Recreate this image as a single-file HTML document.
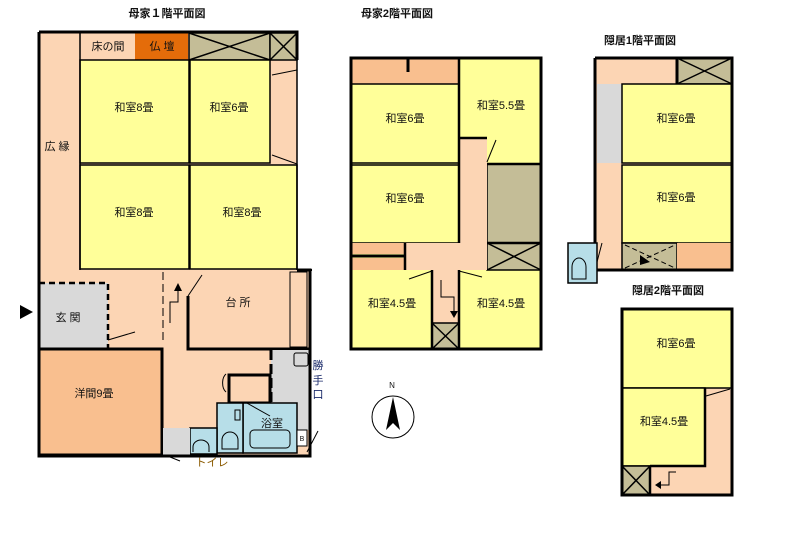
<!DOCTYPE html>
<html><head><meta charset="utf-8"><style>
html,body{margin:0;padding:0;background:#fff;}
svg{display:block;font-family:"Liberation Sans","Noto Sans CJK JP",sans-serif;}
text{font-size:11px;fill:#111;text-anchor:middle;}
.t{font-size:11px;font-weight:bold;}
</style></head><body>
<svg width="807" height="546" viewBox="0 0 807 546" xmlns="http://www.w3.org/2000/svg">
<defs>
<style>.Y{fill:#ffff99;stroke:#000;stroke-width:1.5}.P{fill:#fcd5b4}.D{fill:#f9bf8f}.G{fill:#d9d9d9}.K{fill:#c4bd97;stroke:#000;stroke-width:1.5}.B{fill:#b7dee8;stroke:#000;stroke-width:1.5}.W{fill:none;stroke:#000;stroke-width:3}.x{stroke:#000;stroke-width:1.5}</style>
</defs>
<!-- titles -->
<text class="t" x="167" y="17">母家１階平面図</text>
<text class="t" x="397" y="17">母家2階平面図</text>
<text class="t" x="640" y="44">隠居1階平面図</text>
<text class="t" x="668" y="294">隠居2階平面図</text>

<!-- ===== Main 1F ===== -->
<path class="P" d="M39 32 H297 V270 H310 V456 H39Z"/>
<rect class="P" x="80" y="32" width="55" height="28"/>
<rect x="135" y="32" width="53" height="28" fill="#e46c0a"/>
<rect class="K" x="189" y="33" width="81" height="27"/>
<line class="x" x1="189" y1="33" x2="270" y2="60"/><line class="x" x1="189" y1="60" x2="270" y2="33"/>
<rect class="K" x="270" y="33" width="27" height="27"/>
<line class="x" x1="270" y1="33" x2="297" y2="60"/><line class="x" x1="270" y1="60" x2="297" y2="33"/>
<rect class="Y" x="80" y="60" width="109" height="103"/>
<rect class="Y" x="190" y="60" width="80" height="103"/>
<rect class="Y" x="80" y="165" width="109" height="104"/>
<rect class="Y" x="190" y="165" width="107" height="104"/>
<line x1="297" y1="32" x2="297" y2="270" stroke="#000" stroke-width="1.5"/>
<line x1="80" y1="32" x2="80" y2="270" stroke="#000" stroke-width="1.5"/>
<line x1="272" y1="75" x2="297" y2="70" stroke="#000"/>
<line x1="272" y1="155" x2="297" y2="164" stroke="#000"/>
<text x="57" y="150">広 縁</text>
<text x="108" y="50">床の間</text>
<text x="162" y="50">仏 壇</text>
<text x="134" y="111">和室8畳</text>
<text x="229" y="111">和室6畳</text>
<text x="134" y="216">和室8畳</text>
<text x="242" y="216">和室8畳</text>
<!-- 玄関 -->
<rect class="G" x="39" y="283" width="69" height="66"/>
<path d="M39 283 H108 V349" fill="none" stroke="#000" stroke-width="2.5" stroke-dasharray="6,4"/>
<text x="68" y="321">玄 関</text>
<path d="M20 305 L33 312 L20 319Z" fill="#000"/>
<line x1="163" y1="272" x2="163" y2="340" stroke="#000" stroke-dasharray="8,4"/>
<path d="M170 323 V302 H178 V290" fill="none" stroke="#000"/><path d="M174 291 L178 283 L182 291Z" fill="#000"/>
<line x1="188" y1="296" x2="202" y2="275" stroke="#000"/>
<!-- 台所 -->
<path d="M188 296 V349 H310" fill="none" stroke="#000" stroke-width="3"/>
<rect x="290" y="272" width="17" height="75" fill="none" stroke="#000"/>
<text x="238" y="306">台 所</text>
<!-- 洋間 -->
<rect class="D" x="39" y="349" width="123" height="106" stroke="#000" stroke-width="3"/>
<text x="94" y="397">洋間9畳</text>
<line x1="108" y1="340" x2="135" y2="332" stroke="#000"/>
<!-- gray 勝手口 -->
<rect class="G" x="271" y="350" width="39" height="80"/>
<line x1="271" y1="350" x2="271" y2="403" stroke="#000" stroke-width="3" stroke-dasharray="10,4"/>
<rect x="294" y="353" width="14" height="13" fill="none" stroke="#000" rx="2"/>
<rect x="229" y="375" width="41" height="28" fill="#fcd5b4" stroke="#000" stroke-width="3"/>
<path d="M226 374 a6 10 0 0 0 0 18" fill="none" stroke="#000"/>
<!-- bath -->
<rect class="B" x="243" y="403" width="54" height="50" stroke-width="3"/>
<rect x="250" y="430" width="40" height="18" rx="4" fill="none" stroke="#000"/>
<text x="272" y="427">浴室</text>
<line x1="245" y1="402" x2="270" y2="416" stroke="#000"/>
<rect class="B" x="217" y="403" width="26" height="50"/>
<path d="M222 449 V440 a8 8 0 0 1 16 0 V449Z" fill="none" stroke="#000"/>
<rect x="235" y="410" width="5" height="10" fill="none" stroke="#000"/>
<rect class="B" x="190" y="428" width="27" height="26" stroke-width="3"/>
<path d="M193 452 V447 a8 7 0 0 1 16 0 V452" fill="none" stroke="#000"/>
<rect class="G" x="163" y="428" width="27" height="27"/>
<rect x="297" y="430" width="10" height="16" fill="#fff" stroke="#000"/>
<text x="302" y="441" style="font-size:7px">B</text>
<line x1="307" y1="452" x2="318" y2="431" stroke="#000"/>
<line x1="165" y1="455" x2="180" y2="461" stroke="#000"/>
<text x="212" y="466" style="fill:#8a5a00">トイレ</text>
<text x="318" y="369" style="fill:#1a2a6a">勝</text>
<text x="318" y="384" style="fill:#1a2a6a">手</text>
<text x="318" y="398" style="fill:#1a2a6a">口</text>
<!-- outer walls -->
<path d="M39 32 H297 V60 M39 32 V456 H310 V270 H297" class="W"/>
<line x1="297" y1="270" x2="312" y2="270" stroke="#000" stroke-width="2"/>

<!-- ===== Main 2F ===== -->
<rect class="Y" x="351" y="58" width="190" height="291"/>
<rect class="D" x="351" y="58" width="108" height="26"/>
<line x1="408" y1="58" x2="408" y2="72" stroke="#000" stroke-width="3"/>
<rect class="Y" x="351" y="84" width="108" height="79"/>
<rect class="Y" x="351" y="165" width="108" height="78"/>
<rect class="K" x="487" y="164" width="54" height="79"/>
<rect class="K" x="487" y="243" width="54" height="27"/>
<line class="x" x1="487" y1="243" x2="541" y2="270"/><line class="x" x1="487" y1="270" x2="541" y2="243"/>
<path d="M459 138 H487 V270 H405 V243 H459Z" class="P"/>
<rect class="D" x="351" y="243" width="54" height="11"/>
<rect class="D" x="351" y="258" width="54" height="12"/>
<line x1="351" y1="256" x2="405" y2="256" stroke="#000" stroke-width="3"/>
<rect class="P" x="432" y="270" width="27" height="53"/>
<rect class="K" x="432" y="323" width="27" height="26"/>
<line class="x" x1="432" y1="323" x2="459" y2="349"/><line class="x" x1="432" y1="349" x2="459" y2="323"/>
<path d="M441 280 V297 H454 V312" fill="none" stroke="#000"/><path d="M450 311 L454 318 L458 311Z" fill="#000"/>
<line x1="409" y1="279" x2="432" y2="271" stroke="#000"/>
<line x1="459" y1="271" x2="482" y2="277" stroke="#000"/>
<line x1="487" y1="162" x2="496" y2="140" stroke="#000"/>
<path d="M459 58 V138 H487 M459 138 V243 M405 243 V270 M432 270 V349 M459 270 V349 M487 164 H541 M487 243 H541" fill="none" stroke="#000" stroke-width="2.5"/>
<rect x="351" y="58" width="190" height="291" class="W"/>
<text x="405" y="122">和室6畳</text>
<text x="501" y="109">和室5.5畳</text>
<text x="405" y="202">和室6畳</text>
<text x="392" y="307">和室4.5畳</text>
<text x="501" y="307">和室4.5畳</text>

<!-- ===== Hidden 1F ===== -->
<rect class="P" x="595" y="58" width="137" height="212"/>
<rect class="G" x="597" y="84" width="25" height="79"/>
<rect class="K" x="677" y="58" width="55" height="26"/>
<line class="x" x1="677" y1="58" x2="732" y2="84"/><line class="x" x1="677" y1="84" x2="732" y2="58"/>
<rect class="Y" x="622" y="84" width="110" height="79"/>
<rect class="Y" x="622" y="165" width="110" height="78"/>
<rect class="K" x="622" y="243" width="55" height="27"/>
<path d="M625 245 L675 268 M625 268 L675 245" stroke="#000" stroke-dasharray="5,3"/>
<path d="M640 255 L650 262 L640 265Z" fill="#000"/>
<rect class="D" x="677" y="243" width="55" height="27"/>
<rect class="B" x="568" y="243" width="29" height="40" stroke-width="3"/>
<path d="M572 279 V267 a7 9 0 0 1 14 0 V279Z" fill="none" stroke="#000"/>
<line x1="597" y1="262" x2="602" y2="243" stroke="#000"/>
<path d="M595 58 V243 M597 270 H732 V58 H595 M677 58 V84" class="W"/>
<text x="676" y="122">和室6畳</text>
<text x="676" y="201">和室6畳</text>

<!-- ===== Hidden 2F ===== -->
<rect class="P" x="622" y="309" width="110" height="186"/>
<rect class="Y" x="622" y="309" width="110" height="79"/>
<rect class="Y" x="622" y="388" width="83" height="78"/>
<rect class="K" x="622" y="466" width="28" height="29"/>
<line class="x" x1="622" y1="466" x2="650" y2="495"/><line class="x" x1="622" y1="495" x2="650" y2="466"/>
<path d="M676 472 H669 V485 H660" fill="none" stroke="#000"/><path d="M661 481 L655 485 L661 489Z" fill="#000"/>
<line x1="706" y1="396" x2="730" y2="389" stroke="#000"/>
<path d="M650 466 H705 V388 M650 466 V495" fill="none" stroke="#000" stroke-width="2.5"/>
<rect x="622" y="309" width="110" height="186" class="W"/>
<text x="676" y="347">和室6畳</text>
<text x="664" y="425">和室4.5畳</text>

<!-- compass -->
<text x="392" y="388" style="font-size:8px">N</text>
<circle cx="393" cy="417" r="21" fill="none" stroke="#000"/>
<path d="M393 397 L400 430 L393 423 L386 430Z" fill="#000"/>
</svg>
</body></html>
